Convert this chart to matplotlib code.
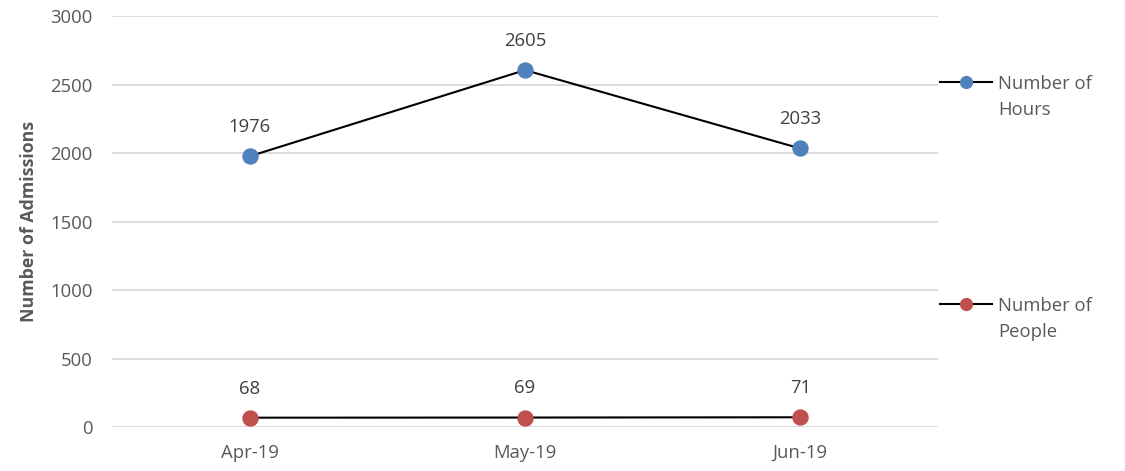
import matplotlib.pyplot as plt
from matplotlib.lines import Line2D

months = ["Apr-19", "May-19", "Jun-19"]
hours = [1976, 2605, 2033]
people = [68, 69, 71]
series_names = ["Number of\nHours", "Number of\nPeople"]
series_colors = ["#4F81BD", "#C0504D"]

plt.rcParams["font.family"] = ["Open Sans", "DejaVu Sans"]
text_color = "#595959"
fs = 13.3

fig = plt.figure(figsize=(11.25, 4.71), dpi=100)
ax = fig.add_axes([112 / 1125, 44 / 471, 826 / 1125, 411 / 471])

x = range(len(months))
for vals, col in zip([hours, people], series_colors):
    ax.plot(x, vals, color="black", linewidth=1.5, marker="o", markersize=10.8,
            markerfacecolor=col, markeredgecolor=col, zorder=3)
    for xi, v in zip(x, vals):
        ax.annotate(str(v), (xi, v), xytext=(0, 21), textcoords="offset points",
                    ha="center", va="center", fontsize=fs, color="#404040")

ax.set_xlim(-0.5, 2.5)
ax.set_ylim(0, 3000)
ax.set_yticks(range(0, 3001, 500))
ax.set_xticks(list(x))
ax.set_xticklabels(months)
ax.grid(axis="y", color="#D9D9D9", linewidth=1.3)
ax.set_axisbelow(True)
for s in ax.spines.values():
    s.set_visible(False)
ax.tick_params(length=0, labelsize=fs, colors=text_color)
ax.tick_params(axis="y", pad=14)
ax.tick_params(axis="x", pad=12)
ax.set_ylabel("Number of Admissions", fontsize=12.8, fontweight="bold", color=text_color, labelpad=9)

# legend, drawn like the spreadsheet one
for name, col, ypix in zip(series_names, series_colors, [82, 304]):
    yf = 1 - ypix / 471
    fig.add_artist(Line2D([940 / 1125, 992 / 1125], [yf, yf], transform=fig.transFigure,
                          color="black", linewidth=1.5))
    fig.add_artist(Line2D([966 / 1125], [yf], transform=fig.transFigure, marker="o",
                          markersize=8.5, markerfacecolor=col, markeredgecolor=col))
    fig.text(998 / 1125, yf + 7 / 471, name, ha="left", va="top", fontsize=fs,
             color=text_color, linespacing=1.55)

fig.savefig("out.png", dpi=100)
